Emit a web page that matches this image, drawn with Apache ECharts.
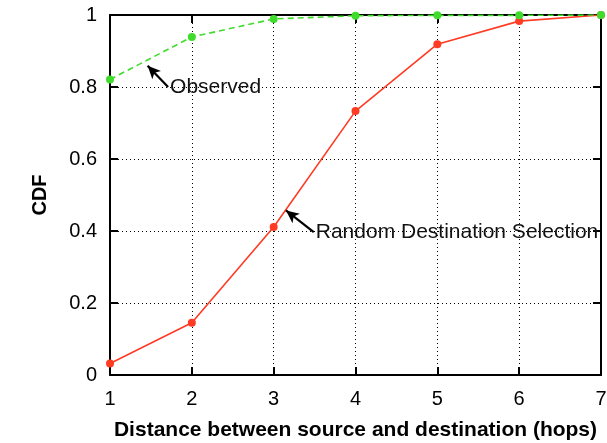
<!DOCTYPE html>
<html>
<head>
<meta charset="utf-8">
<script src="https://cdn.jsdelivr.net/npm/echarts@6/dist/echarts.min.js"></script>
<style>
  html, body { margin: 0; padding: 0; background: #fff; }
  #chart { width: 607px; height: 443px; }
</style>
</head>
<body>
<div id="chart"></div>
<script>
// Hop distances between source and destination
const hops = [1, 2, 3, 4, 5, 6, 7];
// Cumulative fraction of pairs within each distance
const observedCdf = [0.821, 0.939, 0.989, 0.998, 0.999, 0.999, 1.0];
const randomCdf = [0.032, 0.145, 0.411, 0.733, 0.919, 0.983, 1.0];
const yTicks = [0, 0.2, 0.4, 0.6, 0.8, 1];

const FONT = '"Liberation Sans", Arial, Helvetica, sans-serif';
const BLACK = '#000';

const chart = echarts.init(document.getElementById('chart'), null, { renderer: 'canvas' });

function pairs(ys) { return hops.map((x, i) => [x, ys[i]]); }

const axisCommon = {
  min: 1, max: 7, interval: 1,
  axisLine: { show: true, onZero: false, lineStyle: { color: BLACK, width: 2 } },
  axisTick: { show: true, inside: true, length: 8, lineStyle: { color: BLACK, width: 2 } },
  splitLine: { show: false }
};

const option = {
  animation: false,
  backgroundColor: '#fff',
  grid: { left: 110, right: 6, top: 15, bottom: 68, containLabel: false, outerBoundsMode: 'none' },
  xAxis: [
    Object.assign({}, axisCommon, {
      type: 'value', position: 'bottom',
      name: 'Distance between source and destination (hops)',
      nameLocation: 'middle', nameGap: 45,
      nameTextStyle: { fontFamily: FONT, fontSize: 21, fontWeight: 'bold', color: BLACK },
      axisLabel: { show: true, fontFamily: FONT, fontSize: 20, color: BLACK, margin: 14 },
      splitLine: { show: true, lineStyle: { color: BLACK, type: [1, 3], width: 1 } }
    }),
    Object.assign({}, axisCommon, {
      type: 'value', position: 'top',
      axisLabel: { show: false }
    })
  ],
  yAxis: [
    {
      type: 'value', position: 'left', min: 0, max: 1, interval: 0.2,
      name: 'CDF', nameLocation: 'middle', nameGap: 60, nameRotate: 90,
      nameTextStyle: { fontFamily: FONT, fontSize: 20, fontWeight: 'bold', color: BLACK },
      axisLine: { show: true, onZero: false, lineStyle: { color: BLACK, width: 2 } },
      axisTick: { show: true, inside: true, length: 8, lineStyle: { color: BLACK, width: 2 } },
      axisLabel: {
        show: true, fontFamily: FONT, fontSize: 20, color: BLACK, margin: 13,
        formatter: v => {
          const t = yTicks.find(k => Math.abs(k - v) < 1e-9);
          return t === undefined ? '' : String(t);
        }
      },
      splitLine: { show: true, lineStyle: { color: BLACK, type: [1, 3], width: 1 } }
    },
    {
      type: 'value', position: 'right', min: 0, max: 1, interval: 0.2,
      axisLine: { show: true, onZero: false, lineStyle: { color: BLACK, width: 2 } },
      axisTick: { show: true, inside: true, length: 8, lineStyle: { color: BLACK, width: 2 } },
      axisLabel: { show: false },
      splitLine: { show: false }
    }
  ],
  series: [
    {
      name: 'Random Destination Selection',
      type: 'line',
      data: pairs(randomCdf),
      symbol: 'circle', symbolSize: 8,
      itemStyle: { color: '#ff3b24' },
      lineStyle: { color: '#ff3b24', width: 1.6 },
      z: 3,
      markLine: {
        silent: true, animation: false,
        symbol: ['none', 'arrow'], symbolSize: [9, 13],
        lineStyle: { color: BLACK, width: 2.2, type: 'solid' },
        label: { show: false },
        data: [[{ coord: [3.49, 0.397] }, { coord: [3.15, 0.457] }]]
      },
      markPoint: {
        silent: true, animation: false,
        symbol: 'circle', symbolSize: 0,
        label: {
          show: true, position: 'right', distance: 2,
          fontFamily: FONT, fontSize: 21, color: '#111',
          formatter: 'Random Destination Selection'
        },
        data: [{ coord: [3.49, 0.397] }]
      }
    },
    {
      name: 'Observed',
      type: 'line',
      data: pairs(observedCdf),
      symbol: 'circle', symbolSize: 8,
      itemStyle: { color: '#3fdc2c' },
      lineStyle: { color: '#3fdc2c', width: 1.6, type: [6, 4] },
      z: 4,
      markLine: {
        silent: true, animation: false,
        symbol: ['none', 'arrow'], symbolSize: [9, 13],
        lineStyle: { color: BLACK, width: 2.2, type: 'solid' },
        label: { show: false },
        data: [[{ coord: [1.71, 0.8] }, { coord: [1.46, 0.859] }]]
      },
      markPoint: {
        silent: true, animation: false,
        symbol: 'circle', symbolSize: 0,
        label: {
          show: true, position: 'right', distance: 2,
          fontFamily: FONT, fontSize: 21, color: '#111',
          formatter: 'Observed'
        },
        data: [{ coord: [1.71, 0.8] }]
      }
    }
  ]
};

chart.setOption(option);
</script>
</body>
</html>
